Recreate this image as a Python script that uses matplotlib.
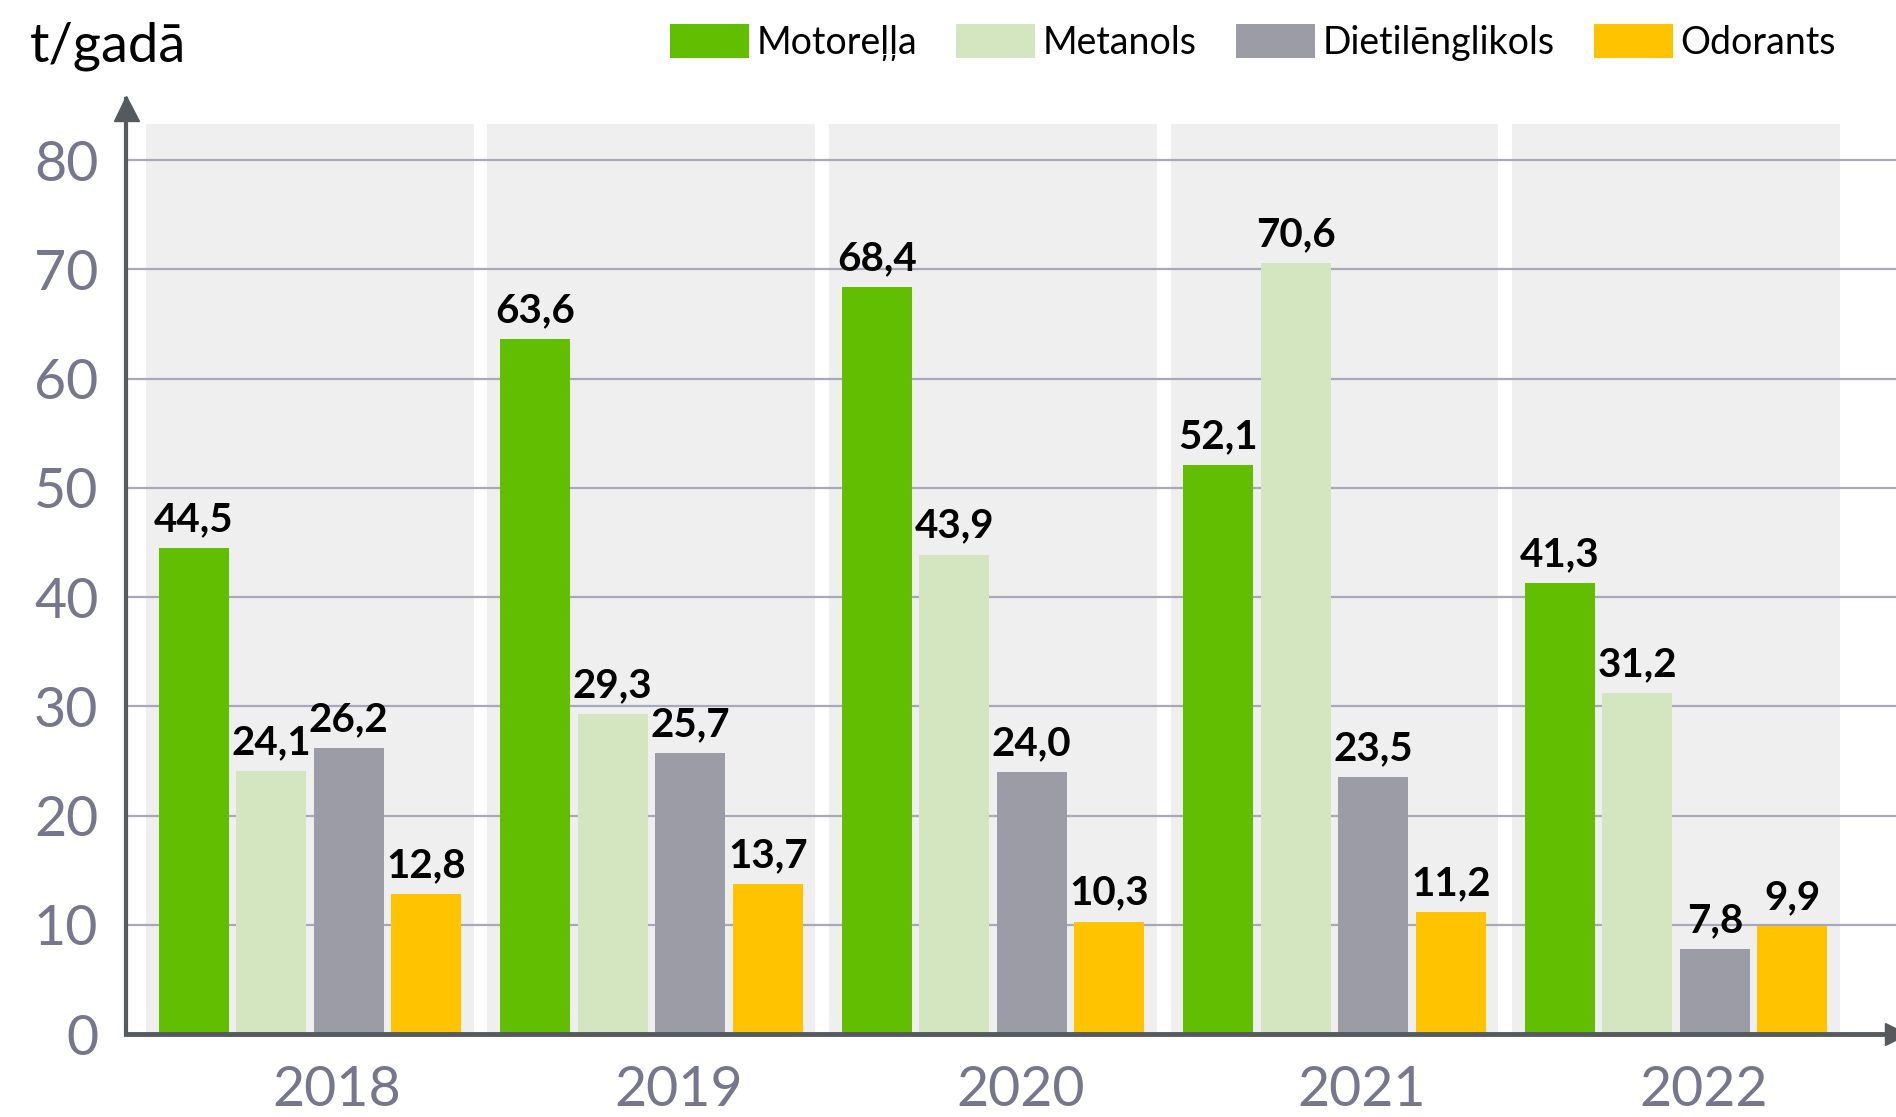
import numpy as np
import matplotlib
matplotlib.use("Agg")
from matplotlib import pyplot as plt
from matplotlib.patches import Patch

# dati
years = ["2018", "2019", "2020", "2021", "2022"]
series = ["Motoreļļa", "Metanols", "Dietilēnglikols", "Odorants"]
motorella = [44.5, 63.6, 68.4, 52.1, 41.3]
metanols = [24.1, 29.3, 43.9, 70.6, 31.2]
dietilenglikols = [26.2, 25.7, 24.0, 23.5, 7.8]
odorants = [12.8, 13.7, 10.3, 11.2, 9.9]
yticks = [0, 10, 20, 30, 40, 50, 60, 70, 80]

colors = ["#62be00", "#d4e6c0", "#9c9ca6", "#ffc300"]
tick_col = "#76768e"
axis_col = "#555a5f"

plt.rcParams['font.family'] = ['Lato', 'DejaVu Sans']

fig = plt.figure(figsize=(18.96, 11.17), dpi=100)
ax = fig.add_axes([0.0665, 0.0743, 0.9335, 0.837])

x = np.arange(len(years))
step = 0.227
width = 0.205
offsets = (np.arange(4) - 1.5) * step

# grey panels behind each year
for i in x:
    ax.fill_between([i - 0.48, i + 0.48], 0, 83.3, color="#efefef", zorder=0, lw=0)

for y in yticks[1:]:
    ax.axhline(y, color="#a9a8ba", lw=1.6, zorder=1)

for k, vals in enumerate([motorella, metanols, dietilenglikols, odorants]):
    bars = ax.bar(x + offsets[k], vals, width, color=colors[k], zorder=2, label=series[k])
    for b, v in zip(bars, vals):
        ax.text(b.get_x() + b.get_width() / 2, v + 0.9, f"{v:.1f}".replace(".", ","),
                ha="center", va="bottom", fontsize=29, fontweight="bold", color="black", zorder=3)

ax.set_xlim(-0.538, 4.644)
ax.set_ylim(0, 85.6)

ax.set_yticks(yticks)
ax.set_yticklabels([str(t) for t in yticks])
ax.tick_params(axis="y", length=0, pad=20, labelsize=40, labelcolor=tick_col)
ax.set_xticks(x + 0.08)
ax.set_xticklabels(years)
ax.tick_params(axis="x", length=0, pad=22, labelsize=40, labelcolor=tick_col)

for s in ["top", "right"]:
    ax.spines[s].set_visible(False)
ax.spines["left"].set_color(axis_col)
ax.spines["left"].set_linewidth(3)
ax.spines["bottom"].set_color(axis_col)
ax.spines["bottom"].set_linewidth(3.5)
ax.spines["left"].set_zorder(4)
ax.spines["bottom"].set_zorder(4)

# arrow heads
ax.plot([-0.538], [84.8], marker="^", markersize=18, color=axis_col, clip_on=False, zorder=5)
ax.plot([1], [0], marker=">", markersize=16, color=axis_col, transform=ax.transAxes, clip_on=False, zorder=5)

fig.text(30 / 1896, 1 - 46 / 1117, "t/gadā", fontsize=39, ha="left", va="center")

handles = [Patch(facecolor=c, edgecolor="none") for c in colors]
fig.legend(handles, series, loc="upper left", bbox_to_anchor=(670 / 1896, 1 - 24 / 1117),
           ncol=4, frameon=False, handlelength=2.1, handleheight=1.0,
           handletextpad=0.2, columnspacing=1.05, borderpad=0, borderaxespad=0,
           prop={"family": ["Lato", "DejaVu Sans"], "size": 27})

fig.savefig("out.png", dpi=100)
